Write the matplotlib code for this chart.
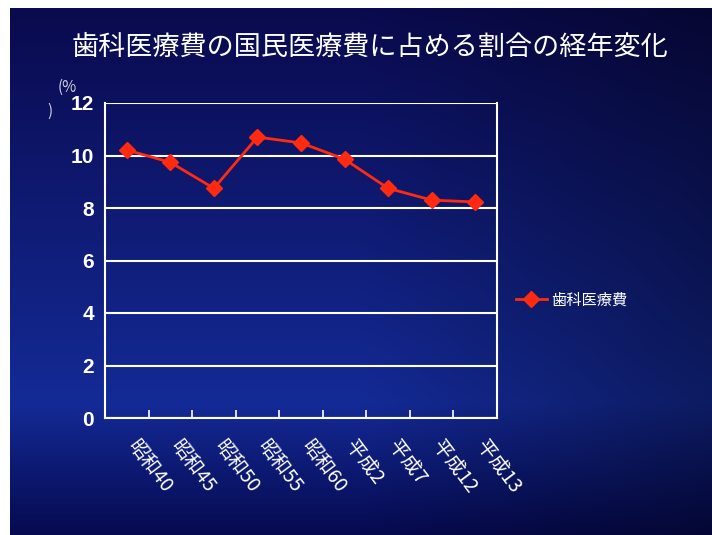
import numpy as np
import matplotlib
matplotlib.use("Agg")
import matplotlib.pyplot as plt

plt.rcParams['font.family'] = ['Noto Sans CJK JP', 'DejaVu Sans']

categories = ["昭和40", "昭和45", "昭和50", "昭和55", "昭和60", "平成2", "平成7", "平成12", "平成13"]
values = [10.21, 9.74, 8.75, 10.70, 10.48, 9.86, 8.75, 8.30, 8.23]
yticks = [0, 2, 4, 6, 8, 10, 12]
series_name = "歯科医療費"
title = "歯科医療費の国民医療費に占める割合の経年変化"

W, H = 712, 535
fig = plt.figure(figsize=(W / 100, H / 100), dpi=100)
fig.patch.set_facecolor('white')

# background gradient panel
bg = fig.add_axes([10 / W, 0, 1 - 10 / W, 1 - 8 / H])
bg.set_axis_off()
ny, nx = 300, 200
yy = np.linspace(0, 1, ny)[:, None]  # 0 top, 1 bottom
xx = np.linspace(0, 1, nx)[None, :]
top = np.array([10, 10, 78]) / 255
mid = np.array([20, 42, 150]) / 255
bot = np.array([6, 10, 80]) / 255
t1 = np.clip(yy / 0.75, 0, 1)
c1 = top[None, None, :] * (1 - t1[..., None]) + mid[None, None, :] * t1[..., None]
t2 = np.clip((yy - 0.75) / 0.25, 0, 1)
img = c1 * (1 - t2[..., None]) + bot[None, None, :] * t2[..., None]
img = np.broadcast_to(img, (ny, nx, 3)).copy()
# darker towards right
dark = (0.35 * np.clip((xx - 0.5) / 0.5, 0, 1))[..., None]
img = img * (1 - dark)
bg.imshow(img, aspect='auto', extent=[0, 1, 0, 1], interpolation='bilinear')

ax = fig.add_axes([105 / W, 1 - 418 / H, (497 - 105) / W, (418 - 103) / H])
ax.set_facecolor('none')
x = np.arange(len(categories))
line, = ax.plot(x, values, color='#ff2a10', lw=2, marker='D', markersize=8,
                markerfacecolor='#ff2a10', markeredgecolor='#ff2a10', label=series_name, zorder=3)
ax.set_xlim(-0.5, len(categories) - 0.5)
ax.set_ylim(0, 12)
ax.set_yticks(yticks)
ax.set_yticklabels([str(v) for v in yticks], color='white', fontsize=15,
                   family=['Liberation Sans'], fontweight='bold')
ax.yaxis.grid(True, color='white', lw=1.5)
ax.set_axisbelow(True)
for s in ['left', 'right', 'bottom']:
    ax.spines[s].set_color('white')
    ax.spines[s].set_linewidth(1.5)
ax.spines['top'].set_visible(False)
ax.tick_params(axis='y', length=0, pad=8)
ax.set_xticks(np.arange(len(categories) - 1) + 0.5)
ax.set_xticklabels([])
ax.tick_params(axis='x', direction='in', length=6, color='white', width=1.2)
for xi, lab in zip(x, categories):
    ax.text(xi + 0.1, -0.95, lab, rotation=-53, rotation_mode='anchor', ha='left', va='center',
            color='white', fontsize=14, transform=ax.transData, clip_on=False)

fig.text(370 / W, 1 - 47 / H, title, color='white', fontsize=19.5, ha='center', va='center')
fig.text(67 / W, 1 - 87 / H, "(%", color='#d0d0e0', fontsize=11, ha='center', va='center')
fig.text(50 / W, 1 - 111 / H, ")", color='#d0d0e0', fontsize=11, ha='center', va='center')

leg = fig.legend(handles=[line], loc='center left', bbox_to_anchor=(510 / W, 1 - 300 / H),
                 frameon=False, fontsize=11, labelcolor='white', handlelength=2.0,
                 handletextpad=0.3, borderaxespad=0)

fig.savefig('out.png', dpi=100, facecolor=fig.get_facecolor())
